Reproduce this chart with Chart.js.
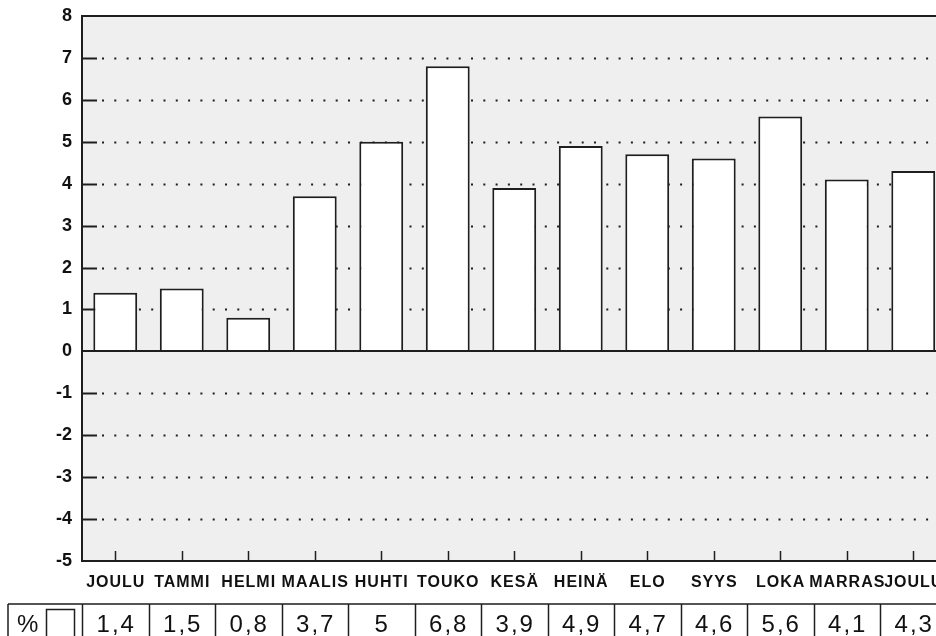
<!DOCTYPE html>
<html>
<head>
<meta charset="utf-8">
<script src="https://cdn.jsdelivr.net/npm/chart.js@4.4.1/dist/chart.umd.min.js"></script>
<style>
  html, body { margin: 0; padding: 0; background: #fff; overflow: hidden; }
  #wrap { width: 960px; height: 636px; }
</style>
</head>
<body>
<div id="wrap"><canvas id="chart" width="960" height="636"></canvas></div>
<script>
// Data
const months = ['JOULU', 'TAMMI', 'HELMI', 'MAALIS', 'HUHTI', 'TOUKO', 'KESÄ', 'HEINÄ', 'ELO', 'SYYS', 'LOKA', 'MARRAS', 'JOULU'];
const values = [1.4, 1.5, 0.8, 3.7, 5, 6.8, 3.9, 4.9, 4.7, 4.6, 5.6, 4.1, 4.3];
const yMin = -5;
const yMax = 8;
const tableLabel = '%';

const FONT = '"Liberation Sans", Arial, Helvetica, sans-serif';
const INK = '#1e1e1e';

// Extra drawing: plot background, dotted grid, inner ticks, frame, month labels, value table
const decor = {
  id: 'decor',
  beforeDraw(chart) {
    const { ctx, chartArea: a } = chart;
    ctx.save();
    ctx.fillStyle = '#efefef';
    ctx.fillRect(a.left, a.top, a.right - a.left, a.bottom - a.top);
    ctx.restore();
  },
  beforeDatasetsDraw(chart) {
    const { ctx, chartArea: a } = chart;
    const y = chart.scales.y;
    const x = chart.scales.x;
    ctx.save();
    ctx.strokeStyle = INK;
    y.ticks.forEach(t => {
      if (t.value === yMin || t.value === yMax || t.value === 0) return;
      const py = Math.round(y.getPixelForValue(t.value)) + 0.5;
      // dotted grid line
      ctx.lineWidth = 2;
      ctx.setLineDash([2, 10.3]);
      ctx.beginPath();
      ctx.moveTo(a.left + 20, py);
      ctx.lineTo(a.right, py);
      ctx.stroke();
      // short solid tick inside the axis
      ctx.setLineDash([]);
      ctx.beginPath();
      ctx.moveTo(a.left, py);
      ctx.lineTo(a.left + 15, py);
      ctx.stroke();
    });
    // ticks up from the bottom at category centres
    ctx.lineWidth = 1.5;
    months.forEach((m, i) => {
      const px = Math.round(x.getPixelForValue(i)) + 0.5;
      ctx.beginPath();
      ctx.moveTo(px, a.bottom);
      ctx.lineTo(px, a.bottom - 10);
      ctx.stroke();
    });
    ctx.restore();
  },
  afterDatasetsDraw(chart) {
    const { ctx, chartArea: a } = chart;
    const y = chart.scales.y;
    ctx.save();
    ctx.strokeStyle = INK;
    ctx.lineWidth = 2;
    const zy = Math.round(y.getPixelForValue(0));
    ctx.beginPath();
    ctx.moveTo(a.left, zy);
    ctx.lineTo(a.right, zy);
    ctx.stroke();
    // frame
    ctx.beginPath();
    ctx.moveTo(a.right, a.top);
    ctx.lineTo(a.left, a.top);
    ctx.lineTo(a.left, a.bottom);
    ctx.lineTo(a.right, a.bottom);
    ctx.stroke();
    ctx.restore();
  },
  afterDraw(chart) {
    const { ctx, chartArea: a } = chart;
    const x = chart.scales.x;
    const half = (x.getPixelForValue(1) - x.getPixelForValue(0)) / 2;

    // month labels, spaced a little like the printed original
    ctx.save();
    ctx.fillStyle = '#111';
    ctx.font = 'bold 16px ' + FONT;
    ctx.letterSpacing = '1px';
    ctx.textAlign = 'center';
    ctx.textBaseline = 'alphabetic';
    months.forEach((m, i) => {
      ctx.fillText(m, x.getPixelForValue(i) + 0.5, a.bottom + 26);
    });
    ctx.restore();

    // value table
    const top = 604;
    const bottom = 660;
    const base = 632;
    ctx.save();
    ctx.strokeStyle = INK;
    ctx.lineWidth = 1.5;
    ctx.beginPath();
    ctx.moveTo(8, top);
    ctx.lineTo(a.right, top);
    ctx.moveTo(8, top);
    ctx.lineTo(8, bottom);
    ctx.stroke();
    ctx.fillStyle = '#111';
    ctx.font = '24px ' + FONT;
    ctx.letterSpacing = '2px';
    ctx.textBaseline = 'alphabetic';
    ctx.textAlign = 'left';
    ctx.fillText(tableLabel, 17, base);
    ctx.strokeRect(46.5, 609.5, 28, 40);
    ctx.textAlign = 'center';
    values.forEach((v, i) => {
      const cx = x.getPixelForValue(i);
      const lx = Math.round(cx - half) + 0.5;
      ctx.beginPath();
      ctx.moveTo(lx, top);
      ctx.lineTo(lx, bottom);
      ctx.stroke();
      ctx.fillText(String(v).replace('.', ','), cx + 1, base);
    });
    ctx.restore();
  }
};

new Chart(document.getElementById('chart'), {
  type: 'bar',
  data: {
    labels: months,
    datasets: [{
      data: values,
      backgroundColor: '#ffffff',
      borderColor: INK,
      borderWidth: 2,
      barPercentage: 1,
      categoryPercentage: 0.66
    }]
  },
  options: {
    responsive: false,
    animation: false,
    layout: { padding: { top: 16, right: 13.5, left: 0, bottom: 0 } },
    plugins: {
      legend: { display: false },
      tooltip: { enabled: false }
    },
    scales: {
      x: {
        grid: { display: false, drawTicks: false },
        border: { display: false },
        ticks: { display: false },
        afterFit(scale) { scale.height = 75; }
      },
      y: {
        min: yMin,
        max: yMax,
        grid: { display: false, drawTicks: false },
        border: { display: false },
        ticks: {
          stepSize: 1,
          color: '#111',
          padding: 10,
          font: { family: FONT, size: 18, weight: 'bold' }
        },
        afterFit(scale) {
          scale.width = 82;
          scale.paddingTop = 0;
          scale.paddingBottom = 0;
        }
      }
    }
  },
  plugins: [decor]
});
</script>
</body>
</html>
